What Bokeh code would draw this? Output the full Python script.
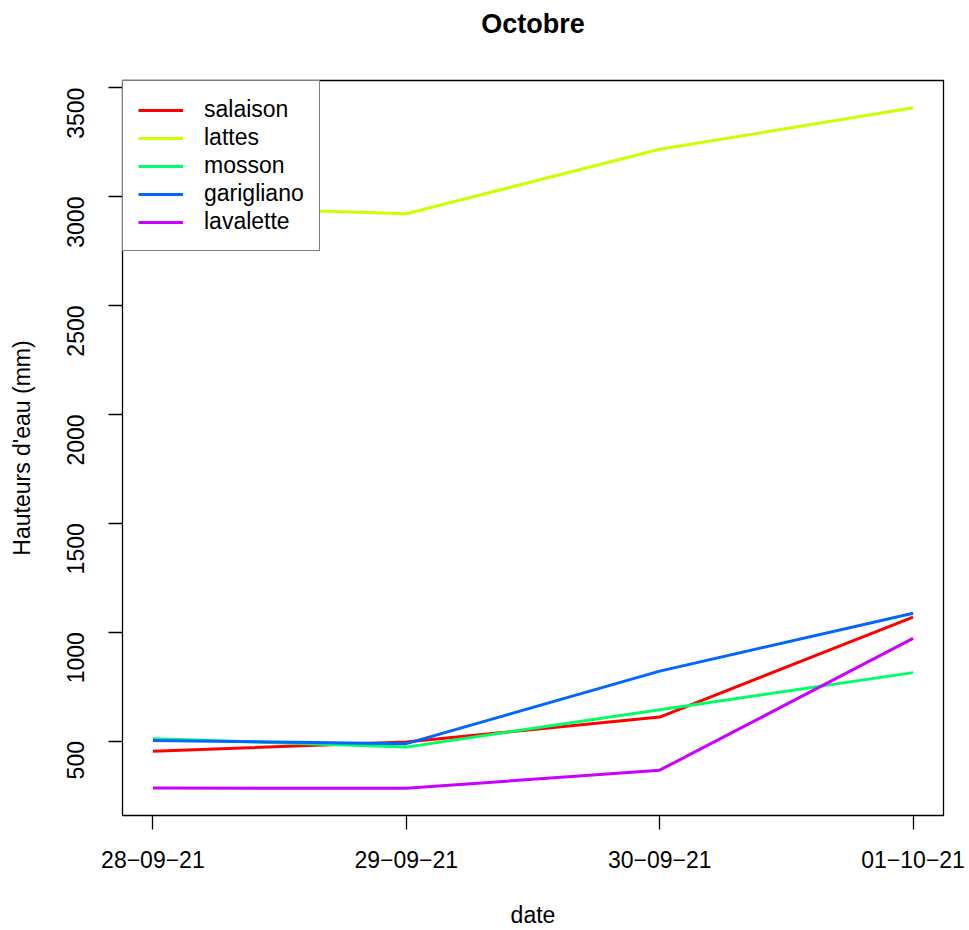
import math
from bokeh.plotting import figure
from bokeh.models import Range1d, FixedTicker, Legend, LegendItem
from bokeh.embed import file_html
from bokeh.resources import INLINE

dates = ["28−09−21", "29−09−21", "30−09−21", "01−10−21"]
x_pos = [1, 2, 3, 4]

salaison = [453, 496, 610, 1069]
lattes = [2957, 2921, 3217, 3408]
mosson = [511, 472, 644, 814]
garigliano = [502, 488, 821, 1087]
lavalette = [284, 283, 366, 971]

series_names = ["salaison", "lattes", "mosson", "garigliano", "lavalette"]
series_values = [salaison, lattes, mosson, garigliano, lavalette]
colors = ["#FF0000", "#CCFF00", "#00FF66", "#0066FF", "#CC00FF"]
y_ticks = [500, 1000, 1500, 2000, 2500, 3000, 3500]

FONT = "Liberation Sans"

all_vals = [v for s in series_values for v in s]
ymin, ymax = min(all_vals), max(all_vals)
ypad = 0.04 * (ymax - ymin)
xpad = 0.04 * (max(x_pos) - min(x_pos))

p = figure(width=969, height=930, output_backend="svg", toolbar_location=None,
           x_range=Range1d(min(x_pos) - xpad, max(x_pos) + xpad),
           y_range=Range1d(ymin - ypad, ymax + ypad),
           title="Octobre", x_axis_label="date", y_axis_label="Hauteurs d'eau (mm)",
           min_border_left=122, min_border_right=26, min_border_top=80, min_border_bottom=115)

p.background_fill_color = "white"
p.border_fill_color = "white"
p.outline_line_color = "black"
p.outline_line_width = 1.3
p.xgrid.visible = False
p.ygrid.visible = False

p.title.align = "center"
p.title.vertical_align = "bottom"
p.title.text_font = FONT
p.title.text_font_size = "27px"
p.title.text_font_style = "bold"
p.title.text_color = "black"
p.title.standoff = 0
p.title.padding = dict(left=0, right=0, top=0, bottom=42)

for ax in (p.xaxis[0], p.yaxis[0]):
    ax.axis_line_color = "black"
    ax.major_tick_line_color = "black"
    ax.major_tick_line_width = 1.3
    ax.major_tick_out = 14
    ax.major_tick_in = 0
    ax.minor_tick_line_color = None
    ax.major_label_text_font = FONT
    ax.major_label_text_font_size = "23px"
    ax.major_label_text_color = "black"
    ax.axis_label_text_font = FONT
    ax.axis_label_text_font_size = "23px"
    ax.axis_label_text_font_style = "normal"
    ax.axis_label_text_color = "black"

p.xaxis[0].ticker = FixedTicker(ticks=x_pos)
p.xaxis[0].major_label_overrides = {x: d for x, d in zip(x_pos, dates)}
p.xaxis[0].major_label_standoff = 21
p.xaxis[0].axis_label_standoff = 31

p.yaxis[0].ticker = FixedTicker(ticks=y_ticks)
p.yaxis[0].major_label_orientation = math.pi / 2
p.yaxis[0].major_label_standoff = 33
p.yaxis[0].axis_label_standoff = 21

items = []
for name, vals, col in zip(series_names, series_values, colors):
    r = p.line(x_pos, vals, line_color=col, line_width=3)
    items.append(LegendItem(label=name, renderers=[r]))

legend = Legend(items=items, location="top_left")
legend.margin = 0
legend.padding = 15
legend.spacing = 1
legend.glyph_width = 45
legend.glyph_height = 20
legend.label_height = 20
legend.label_standoff = 21
legend.label_text_font = FONT
legend.label_text_font_size = "23px"
legend.label_text_color = "black"
legend.border_line_color = "black"
legend.border_line_width = 1.3
legend.background_fill_color = "white"
legend.background_fill_alpha = 1.0
p.add_layout(legend)

open("out.html", "w").write(file_html(p, INLINE))
